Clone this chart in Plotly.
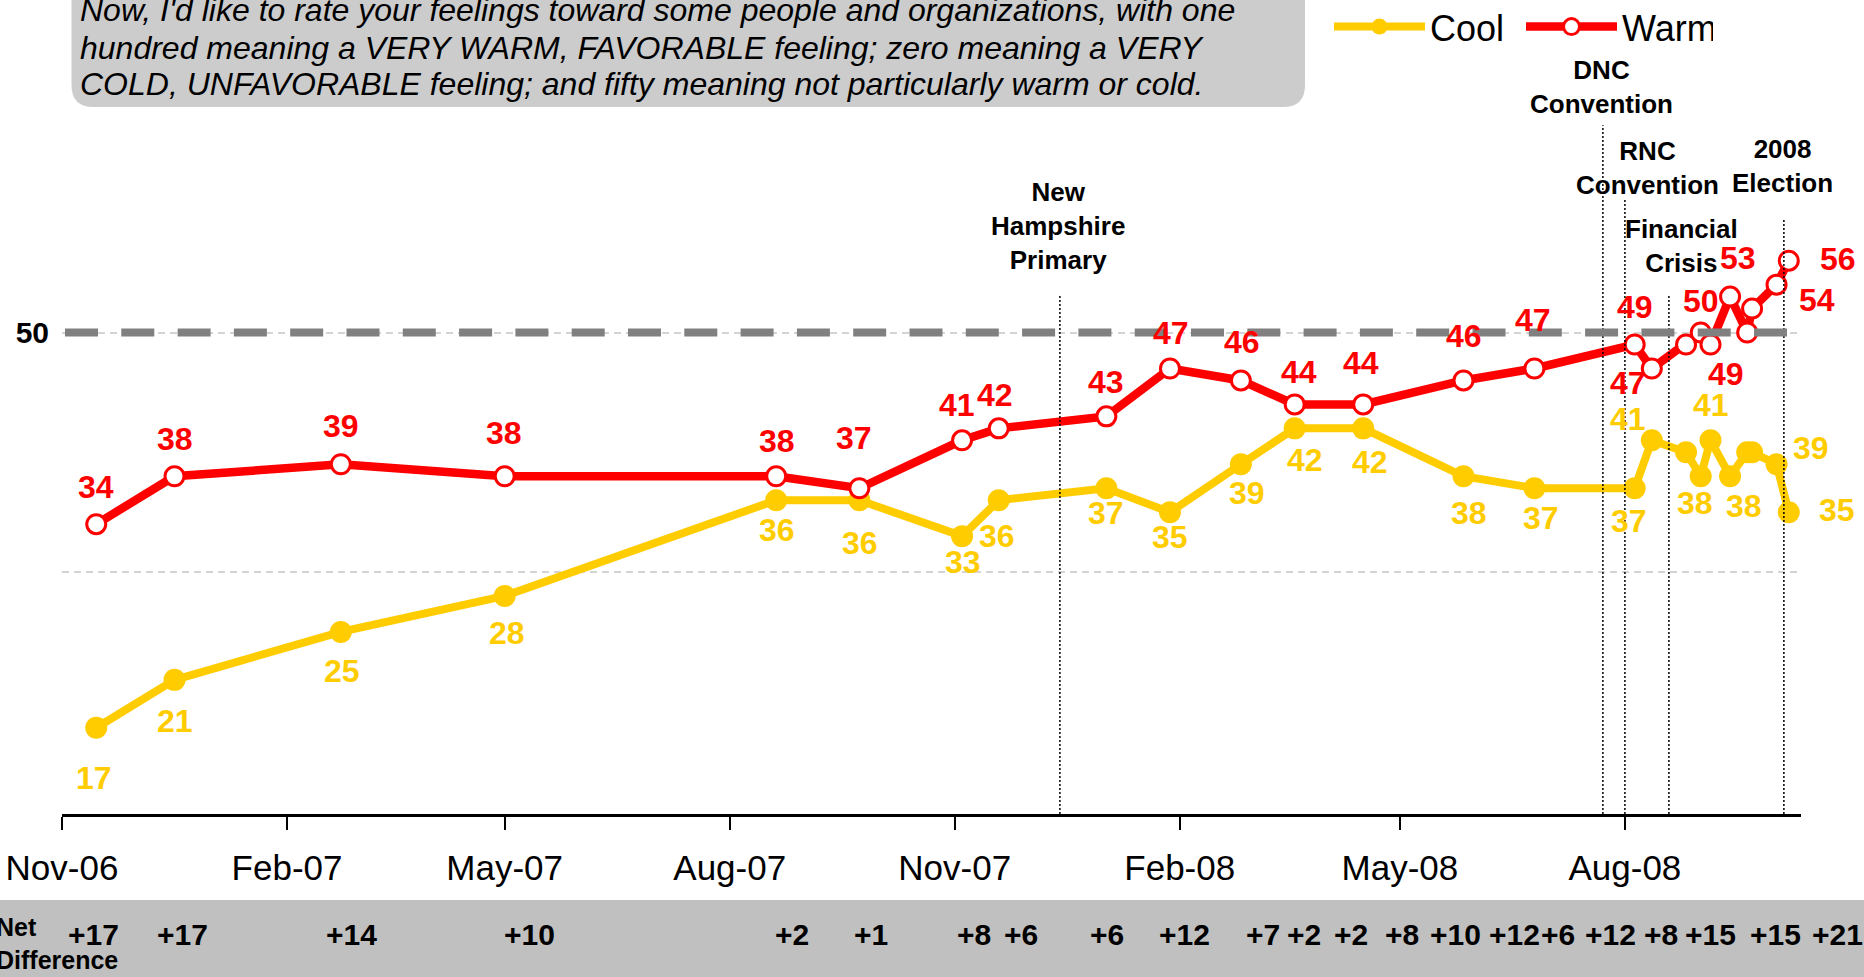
import plotly.graph_objects as go

# ---------------- data ----------------
DATES = ["2006-11-15", "2006-12-17", "2007-02-23", "2007-05-01", "2007-08-20",
         "2007-09-23", "2007-11-04", "2007-11-19", "2008-01-02", "2008-01-28",
         "2008-02-26", "2008-03-19", "2008-04-16", "2008-05-27", "2008-06-25",
         "2008-08-05", "2008-08-12", "2008-08-26", "2008-09-01", "2008-09-05",
         "2008-09-13", "2008-09-20", "2008-09-22", "2008-10-02", "2008-10-07"]
WARM = [34, 38, 39, 38, 38, 37, 41, 42, 43, 47, 46, 44, 44, 46, 47,
        49, 47, 49, 50, 49, 53, 50, 52, 54, 56]
COOL = [17, 21, 25, 28, 36, 36, 33, 36, 37, 35, 39, 42, 42, 38, 37,
        37, 41, 40, 38, 41, 38, 40, 40, 39, 35]
LABELED = [True] * 17 + [False, True, True, True, False, False, True, True]

XTICK_VALS = ["2006-11-01", "2007-02-01", "2007-05-01", "2007-08-01",
              "2007-11-01", "2008-02-01", "2008-05-01", "2008-08-01"]
XTICK_TEXT = ["Nov-06", "Feb-07", "May-07", "Aug-07", "Nov-07", "Feb-08", "May-08", "Aug-08"]

EVENT_NAMES = ["New<br>Hampshire<br>Primary", "DNC<br>Convention", "RNC<br>Convention",
               "Financial<br>Crisis", "2008<br>Election"]
EVENT_DATES = ["2007-12-14", "2008-07-23", "2008-08-01", "2008-08-19", "2008-10-05"]

QUESTION_LINES = [
    "Now, I'd like to rate your feelings toward some people and organizations, with one",
    "hundred meaning a VERY WARM, FAVORABLE feeling; zero meaning a VERY",
    "COLD, UNFAVORABLE feeling; and fifty meaning not particularly warm or cold.",
]
NET_TITLE = "Net<br>Difference"
REF_VALUE = 50

# ---------------- layout constants ----------------
W, H = 1864, 977
ML, MR, MT, MB = 62, 63, 93, 163
PW, PH = W - ML - MR, H - MT - MB
Y_RANGE = [9.8, 70]
X_RANGE = ["2006-11-01", "2008-10-12"]
FONT = "Liberation Sans, Arial, sans-serif"
RED = "#FF0000"
YELLOW = "#FFCC00"

# label offsets in px (dx right, dy down) relative to each point
WARM_OFF = [(0, -37), (0, -37), (0, -38), (-1, -43), (1, -35), (-5, -50), (-5, -35), (-4, -33),
            (0, -34), (1, -35), (1, -38), (4, -32), (-2, -41), (1, -44), (-1, -48), (0, -38),
            (-24, 15), None, (0, -32), (15, 29), (8, -39), None, None, (40, 15), (49, -2)]
COOL_OFF = [(-2, 50), (0, 41), (1, 39), (2, 37), (1, 30), (1, 43), (1, 26), (-2, 36),
            (0, 25), (0, 25), (6, 29), (10, 32), (7, 34), (6, 37), (7, 30), (-6, 33),
            (-24, -21), None, (-6, 27), (0, -35), (14, 30), None, None, (34, -16), (48, -2)]
EVENT_TOP = [53.2, 67.3, 61.1, 53.1, 59.4]
EVENT_LABEL_PX = [(1058, 226), (1601, 87), (1647, 168), (1681, 246), (1782, 166)]
NET_X_PX = [93, 182, 351, 529, 792, 871, 974, 1021, 1107, 1184, 1263, 1304, 1351,
            1402, 1455, 1514, 1558, 1610, 1661, 1710, 1775, 1838]
QUESTION_Y_PX = [9.5, 47.5, 84.4]


def px_x(px):
    return (px - ML) / PW


def px_y(py):
    return (H - MB - py) / PH


fig = go.Figure()
fig.add_trace(go.Scatter(
    x=DATES, y=COOL, name="Cool", mode="lines+markers",
    line=dict(color=YELLOW, width=8),
    marker=dict(symbol="circle", size=22, color=YELLOW, line=dict(width=0)),
    hoverinfo="skip"))
fig.add_trace(go.Scatter(
    x=DATES, y=WARM, name="Warm", mode="lines+markers",
    line=dict(color=RED, width=8.5),
    marker=dict(symbol="circle", size=19, color="white", line=dict(width=3, color=RED)),
    hoverinfo="skip"))

annotations = []
# data labels
for series, offs, col in ((WARM, WARM_OFF, RED), (COOL, COOL_OFF, YELLOW)):
    for d, v, lab, off in zip(DATES, series, LABELED, offs):
        if not lab or off is None:
            continue
        annotations.append(dict(
            x=d, y=v, xref="x", yref="y", text=str(v), showarrow=False,
            xanchor="center", yanchor="middle", xshift=off[0], yshift=-off[1],
            font=dict(family=FONT, size=32, color=col, weight="bold")))

# event labels
for name, (ex, ey) in zip(EVENT_NAMES, EVENT_LABEL_PX):
    annotations.append(dict(
        x=px_x(ex), y=px_y(ey), xref="paper", yref="paper", text=name, showarrow=False,
        xanchor="center", yanchor="middle", align="center",
        font=dict(family=FONT, size=26, color="black", weight="bold")))

# question text
for line, qy in zip(QUESTION_LINES, QUESTION_Y_PX):
    annotations.append(dict(
        x=px_x(78), y=px_y(qy), xref="paper", yref="paper", text=line, showarrow=False,
        xanchor="left", yanchor="middle",
        font=dict(family=FONT, size=32, color="black", style="italic")))

# net difference row
net_vals = [w - c for w, c, lab in zip(WARM, COOL, LABELED) if lab]
for nv, nx in zip(net_vals, NET_X_PX):
    annotations.append(dict(
        x=px_x(nx), y=px_y(934), xref="paper", yref="paper", text=f"+{nv}" if nv >= 0 else str(nv),
        showarrow=False, xanchor="center", yanchor="middle",
        font=dict(family=FONT, size=30, color="black", weight="bold")))
annotations.append(dict(
    x=px_x(-6), y=px_y(944), xref="paper", yref="paper", text=NET_TITLE, showarrow=False,
    xanchor="left", yanchor="middle", align="left",
    font=dict(family=FONT, size=25, color="black", weight="bold")))

shapes = []
# question box (rounded rectangle)
bx0, bx1, by0, by1, r = 71.5, 1305, -40, 107, 22
pts = [
    f"M {px_x(bx0)},{px_y(by0)}",
    f"L {px_x(bx0)},{px_y(by1 - r)}",
    f"Q {px_x(bx0)},{px_y(by1)} {px_x(bx0 + r)},{px_y(by1)}",
    f"L {px_x(bx1 - r)},{px_y(by1)}",
    f"Q {px_x(bx1)},{px_y(by1)} {px_x(bx1)},{px_y(by1 - r)}",
    f"L {px_x(bx1)},{px_y(by0)} Z",
]
shapes.append(dict(type="path", xref="paper", yref="paper", path=" ".join(pts),
                   fillcolor="#CCCCCC", line=dict(width=0), layer="below"))
# net difference band
shapes.append(dict(type="rect", xref="paper", yref="paper",
                   x0=px_x(0), x1=px_x(W), y0=px_y(H), y1=px_y(900),
                   fillcolor="#C0C0C0", line=dict(width=0), layer="below"))
# event lines
for d, top in zip(EVENT_DATES, EVENT_TOP):
    shapes.append(dict(type="line", xref="x", yref="y", x0=d, x1=d, y0=Y_RANGE[0], y1=top,
                       line=dict(color="black", width=1.5, dash="2px,2px"), layer="above"))
# 50 reference line
shapes.append(dict(type="line", xref="paper", yref="y", x0=px_x(65), x1=1, y0=REF_VALUE, y1=REF_VALUE,
                   line=dict(color="#808080", width=8, dash="33px,23.3px"), layer="above"))

fig.update_layout(
    width=W, height=H,
    margin=dict(l=ML, r=MR, t=MT, b=MB, autoexpand=False),
    paper_bgcolor="white", plot_bgcolor="white",
    font=dict(family=FONT, color="black"),
    showlegend=True,
    legend=dict(orientation="h", x=px_x(1329), xanchor="left", y=px_y(26.7), yanchor="middle",
                font=dict(family=FONT, size=36, color="black"), itemwidth=91, entrywidth=86,
                bgcolor="rgba(0,0,0,0)", borderwidth=0, traceorder="normal"),
    xaxis=dict(type="date", range=X_RANGE, tickvals=XTICK_VALS, ticktext=XTICK_TEXT,
               showgrid=False, zeroline=False, showline=True, linecolor="black", linewidth=3,
               ticks="outside", ticklen=13, tickwidth=2, tickcolor="black",
               tickfont=dict(family=FONT, size=35, color="black"), ticklabelstandoff=8),
    yaxis=dict(range=Y_RANGE, tickvals=[30, 50], ticktext=["", "50"], showline=False,
               zeroline=False, showgrid=True, gridcolor="#D4D4D4", gridwidth=1.5, griddash="7px,5px",
               ticks="", tickfont=dict(family=FONT, size=30, color="black", weight="bold"),
               ticklabelstandoff=12),
    annotations=annotations,
    shapes=shapes,
)

fig.write_html("out.html", config={"displayModeBar": False},
               post_script="document.body.style.margin='0px';document.body.style.overflow='hidden';")
